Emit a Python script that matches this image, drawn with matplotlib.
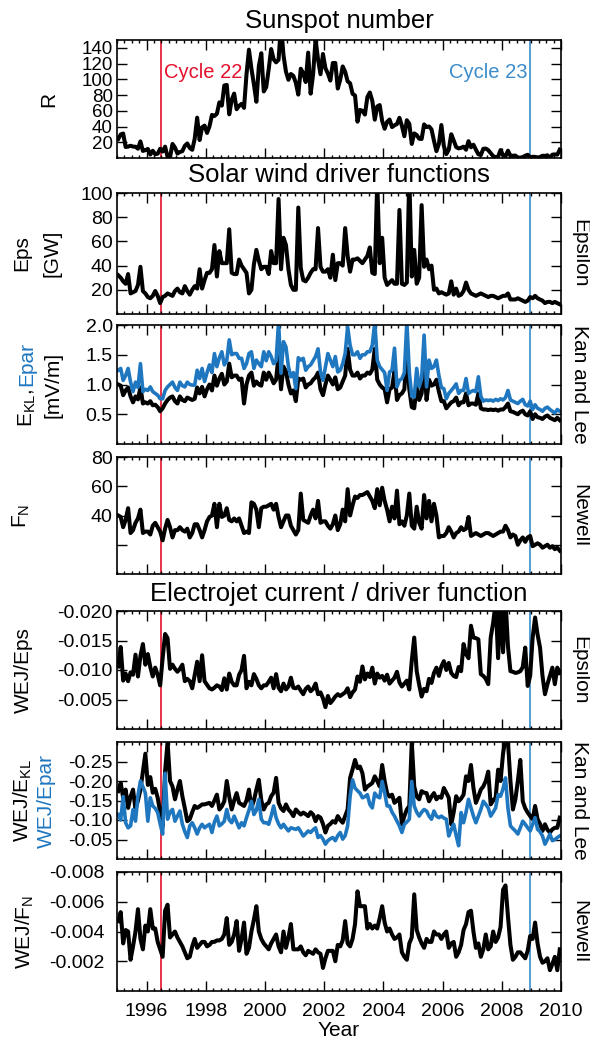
import numpy as np
import matplotlib
matplotlib.use("Agg")
import matplotlib.pyplot as plt
from matplotlib.ticker import MultipleLocator

plt.rcParams['font.family'] = ['Liberation Sans', 'DejaVu Sans']
plt.rcParams['axes.unicode_minus'] = False
plt.rcParams['mathtext.fontset'] = 'custom'
plt.rcParams['mathtext.rm'] = 'Liberation Sans'

# monthly means, Jan 1995 .. Dec 2009
months = 1995 + (np.arange(180) + 0.5) / 12

sunspot_r = [
    24.2, 29.9, 31.1, 14.0, 14.5, 15.6, 14.5, 14.3, 11.8, 21.1, 9.0, 10.0,
    11.5, 4.4, 9.2, 4.8, 5.5, 11.8, 8.2, 14.4, 1.6, 0.9, 17.9, 13.3,
    5.7, 7.6, 8.7, 15.5, 18.5, 12.7, 10.4, 24.4, 51.3, 22.8, 39.0, 41.2,
    31.9, 40.3, 54.8, 53.4, 56.3, 70.7, 66.6, 92.2, 92.9, 55.5, 74.0, 81.9,
    62.0, 66.3, 68.8, 63.7, 106.4, 137.7, 113.5, 93.7, 71.5, 116.7, 133.2, 84.6,
    90.1, 112.9, 138.5, 125.5, 121.6, 124.9, 170.1, 130.5, 109.7, 99.4, 106.8, 104.4,
    95.6, 80.6, 113.5, 107.7, 96.6, 134.0, 81.8, 106.4, 150.7, 125.5, 106.5, 132.2,
    114.1, 107.4, 98.4, 120.7, 120.8, 88.3, 99.6, 116.4, 109.6, 97.5, 95.0, 81.6,
    79.5, 46.2, 61.1, 60.0, 55.2, 77.4, 83.3, 72.7, 48.7, 65.5, 67.3, 47.0,
    37.2, 46.0, 48.9, 39.3, 41.5, 43.2, 51.1, 40.9, 27.7, 48.0, 43.5, 17.9,
    31.3, 29.2, 24.5, 24.2, 42.7, 39.3, 40.1, 36.4, 21.9, 8.7, 18.0, 41.9,
    15.3, 4.9, 10.6, 30.2, 22.3, 13.9, 12.2, 12.9, 14.4, 10.5, 21.4, 13.6,
    16.9, 10.6, 4.8, 3.7, 11.7, 12.0, 10.0, 6.2, 2.4, 0.9, 1.7, 10.1,
    3.4, 2.1, 9.3, 2.9, 2.9, 3.1, 0.5, 0.5, 1.1, 2.9, 4.1, 0.8,
    1.5, 1.4, 0.7, 1.2, 2.9, 2.6, 3.5, 0.0, 4.2, 4.6, 4.2, 10.6]

eps_gw = [
    32, 30, 27, 25, 33, 17, 18, 19, 24, 39, 19, 17,
    14, 13, 15, 19, 15, 9, 14, 15, 17, 16, 15, 19,
    21, 18, 17, 23, 19, 16, 20, 23, 21, 37, 21, 28,
    34, 34, 37, 57, 31, 52, 42, 42, 42, 70, 34, 33,
    33, 45, 40, 37, 34, 17, 20, 41, 53, 44, 37, 39,
    39, 33, 52, 42, 42, 95, 37, 63, 57, 37, 24, 20,
    20, 88, 38, 28, 27, 30, 34, 37, 37, 71, 39, 35,
    35, 37, 30, 49, 28, 42, 42, 40, 71, 48, 35, 45,
    45, 46, 44, 42, 45, 48, 55, 34, 33, 110, 42, 63,
    30, 24, 26, 28, 25, 25, 86, 25, 24, 26, 115, 31,
    53, 25, 30, 90, 39, 45, 37, 40, 20, 21, 17, 18,
    17, 16, 17, 27, 16, 21, 15, 16, 19, 26, 20, 17,
    16, 15, 16, 17, 16, 15, 14, 15, 15, 14, 13, 14,
    15, 15, 17, 12, 12, 12, 13, 12, 11, 10, 11, 14,
    13, 15, 13, 12, 11, 9, 10, 10, 9, 10, 9, 8]

e_kl = [
    1.0, 0.98, 0.82, 0.9, 0.95, 0.8, 0.7, 0.8, 0.75, 0.95, 0.68, 0.7,
    0.68, 0.72, 0.65, 0.66, 0.62, 0.55, 0.6, 0.68, 0.74, 0.78, 0.8, 0.72,
    0.68, 0.8, 0.74, 0.72, 0.78, 0.76, 0.74, 0.76, 0.95, 0.85, 0.96, 0.8,
    0.92, 1.0, 0.9, 1.15, 0.98, 1.1, 1.18, 1.0, 1.05, 1.35, 1.12, 1.15,
    1.15, 1.08, 1.1, 0.68, 1.0, 1.15, 1.2, 0.98, 1.05, 1.0, 0.98, 1.2,
    1.08, 1.2, 1.12, 1.02, 1.08, 1.5, 0.92, 1.3, 1.22, 1.0, 0.85, 0.9,
    0.72, 1.1, 1.08, 1.1, 0.95, 1.0, 1.02, 1.08, 1.12, 1.2, 0.92, 0.82,
    1.0, 1.15, 1.08, 1.0, 1.12, 0.92, 0.95, 1.05, 1.15, 1.6, 1.25, 1.15,
    1.15, 1.2, 1.1, 1.15, 1.15, 1.2, 1.18, 1.25, 1.6, 1.08, 1.0, 0.95,
    0.92, 0.7, 0.92, 0.95, 1.22, 0.74, 0.82, 0.85, 0.92, 1.55, 0.92, 0.62,
    0.6, 0.98, 0.74, 0.85, 1.4, 0.74, 1.08, 0.98, 1.0, 1.08, 0.88, 0.72,
    0.72, 0.6, 0.65, 0.7, 0.72, 0.78, 0.65, 0.7, 0.7, 0.85, 0.65, 0.68,
    0.68, 0.66, 0.85, 0.6, 0.58, 0.58, 0.57, 0.58, 0.57, 0.58, 0.56, 0.58,
    0.58, 0.62, 0.68, 0.55, 0.54, 0.52, 0.5, 0.54, 0.56, 0.5, 0.48, 0.55,
    0.42, 0.5, 0.45, 0.44, 0.42, 0.46, 0.48, 0.44, 0.42, 0.4, 0.44, 0.4]

e_par = [
    1.24, 1.27, 1.07, 1.15, 1.27, 1.04, 0.88, 1.04, 0.95, 1.35, 0.88, 0.92,
    0.9, 0.96, 0.88, 0.85, 0.82, 0.76, 0.76, 0.9, 0.96, 1.0, 1.04, 0.95,
    0.9, 1.04, 0.98, 0.96, 1.04, 1.0, 0.99, 0.99, 1.24, 1.1, 1.27, 1.05,
    1.2, 1.33, 1.2, 1.52, 1.3, 1.45, 1.55, 1.33, 1.4, 1.75, 1.5, 1.52,
    1.52, 1.44, 1.44, 1.27, 1.35, 1.52, 1.55, 1.27, 1.41, 1.35, 1.3, 1.55,
    1.4, 1.55, 1.47, 1.35, 1.4, 2.05, 1.19, 1.72, 1.63, 1.3, 1.13, 1.2,
    0.93, 1.45, 1.41, 1.44, 1.24, 1.3, 1.33, 1.4, 1.47, 1.6, 1.21, 1.07,
    1.3, 1.52, 1.41, 1.3, 1.47, 1.21, 1.24, 1.35, 1.52, 1.97, 1.66, 1.5,
    1.5, 1.55, 1.44, 1.5, 1.5, 1.55, 1.55, 1.66, 2.05, 1.41, 1.3, 1.25,
    1.2, 0.9, 1.21, 1.24, 1.61, 0.96, 1.07, 1.1, 1.2, 2.05, 1.21, 0.8,
    0.79, 1.27, 0.96, 1.1, 1.83, 0.96, 1.41, 1.27, 1.3, 1.41, 1.15, 0.95,
    0.93, 0.76, 0.85, 0.9, 0.95, 1.01, 0.85, 0.9, 0.9, 1.1, 0.85, 0.88,
    0.9, 0.88, 1.13, 0.8, 0.72, 0.74, 0.73, 0.74, 0.72, 0.75, 0.73, 0.76,
    0.74, 0.78, 0.9, 0.74, 0.72, 0.7, 0.68, 0.72, 0.75, 0.66, 0.64, 0.72,
    0.58, 0.66, 0.6, 0.58, 0.55, 0.6, 0.62, 0.58, 0.55, 0.52, 0.58, 0.55]

f_newell = [
    40, 39, 32, 37, 45, 28, 30, 35, 38, 44, 28, 29,
    29, 27, 33, 35, 32, 29, 23, 31, 37, 32, 25, 30,
    30, 32, 30, 29, 31, 25, 28, 34, 34, 30, 25, 30,
    36, 39, 40, 48, 32, 48, 39, 40, 45, 37, 36, 38,
    36, 38, 33, 28, 29, 28, 49, 48, 44, 32, 45, 46,
    46, 47, 48, 44, 48, 39, 32, 36, 40, 40, 33, 30,
    27, 30, 55, 37, 36, 35, 40, 44, 38, 50, 35, 36,
    36, 33, 31, 34, 40, 30, 34, 44, 36, 58, 40, 47,
    53, 52, 54, 54, 55, 56, 53, 50, 45, 58, 47, 59,
    50, 44, 36, 46, 38, 57, 34, 36, 33, 40, 55, 33,
    31, 46, 35, 31, 54, 38, 50, 36, 48, 40, 25, 26,
    26, 28, 32, 29, 25, 28, 29, 32, 30, 31, 39, 26,
    27, 28, 27, 26, 27, 28, 28, 27, 26, 27, 28, 29,
    29, 33, 30, 25, 27, 26, 20, 23, 25, 22, 25, 26,
    19, 20, 21, 20, 18, 19, 20, 18, 19, 17, 18, 16]

wej_eps = [
    -0.0106, -0.0139, -0.0082, -0.0094, -0.0081, -0.0096, -0.0092, -0.0126, -0.0089, -0.0124, -0.0144, -0.0109,
    -0.0127, -0.0105, -0.0089, -0.0104, -0.0092, -0.0074, -0.0120, -0.0161, -0.0154, -0.0102, -0.0109, -0.0102,
    -0.0097, -0.0102, -0.0109, -0.0081, -0.0085, -0.0081, -0.0069, -0.0092, -0.0114, -0.0081, -0.0125, -0.0081,
    -0.0075, -0.0069, -0.0067, -0.0070, -0.0074, -0.0072, -0.0066, -0.0086, -0.0067, -0.0094, -0.0080, -0.0074,
    -0.0074, -0.0092, -0.0100, -0.0124, -0.0069, -0.0080, -0.0074, -0.0093, -0.0085, -0.0074, -0.0069, -0.0074,
    -0.0074, -0.0080, -0.0087, -0.0069, -0.0093, -0.0070, -0.0064, -0.0077, -0.0067, -0.0072, -0.0087, -0.0070,
    -0.0069, -0.0072, -0.0065, -0.0059, -0.0068, -0.0072, -0.0064, -0.0068, -0.0077, -0.0059, -0.0062, -0.0052,
    -0.0037, -0.0056, -0.0044, -0.0049, -0.0055, -0.0059, -0.0056, -0.0059, -0.0062, -0.0069, -0.0054, -0.0062,
    -0.0067, -0.0089, -0.0080, -0.0106, -0.0084, -0.0094, -0.0088, -0.0104, -0.0077, -0.0094, -0.0087, -0.0090,
    -0.0082, -0.0092, -0.0077, -0.0082, -0.0087, -0.0097, -0.0079, -0.0072, -0.0077, -0.0082, -0.0067, -0.0116,
    -0.0155, -0.0098, -0.0075, -0.0055, -0.0068, -0.0064, -0.0085, -0.0078, -0.0095, -0.0104, -0.0090, -0.0106,
    -0.0115, -0.0100, -0.0112, -0.0095, -0.0090, -0.0088, -0.0105, -0.0098, -0.0144, -0.0127, -0.0120, -0.0175,
    -0.0155, -0.0154, -0.0152, -0.0093, -0.0090, -0.0085, -0.0076, -0.0155, -0.0180, -0.0215, -0.0120, -0.0220,
    -0.0130, -0.0220, -0.0140, -0.0098, -0.0097, -0.0095, -0.0096, -0.0098, -0.0105, -0.0138, -0.0073, -0.0090,
    -0.0155, -0.0189, -0.0160, -0.0138, -0.0090, -0.0059, -0.0076, -0.0090, -0.0104, -0.0076, -0.0104, -0.0095]

wej_ekl = [
    -0.174, -0.195, -0.157, -0.178, -0.131, -0.160, -0.178, -0.127, -0.150, -0.178, -0.225, -0.270,
    -0.190, -0.210, -0.170, -0.180, -0.157, -0.120, -0.085, -0.225, -0.300, -0.200, -0.186, -0.153,
    -0.178, -0.200, -0.161, -0.130, -0.097, -0.102, -0.120, -0.136, -0.131, -0.135, -0.140, -0.140,
    -0.142, -0.144, -0.136, -0.150, -0.165, -0.127, -0.135, -0.148, -0.200, -0.160, -0.127, -0.150,
    -0.169, -0.144, -0.140, -0.136, -0.150, -0.178, -0.131, -0.150, -0.178, -0.203, -0.150, -0.127,
    -0.140, -0.144, -0.161, -0.170, -0.208, -0.144, -0.130, -0.123, -0.140, -0.127, -0.120, -0.110,
    -0.127, -0.120, -0.114, -0.119, -0.115, -0.110, -0.120, -0.114, -0.097, -0.110, -0.106, -0.090,
    -0.068, -0.085, -0.090, -0.097, -0.093, -0.110, -0.100, -0.093, -0.110, -0.127, -0.208, -0.230,
    -0.254, -0.233, -0.237, -0.220, -0.178, -0.186, -0.190, -0.195, -0.212, -0.200, -0.186, -0.241,
    -0.200, -0.169, -0.160, -0.165, -0.144, -0.150, -0.157, -0.089, -0.110, -0.127, -0.136, -0.300,
    -0.186, -0.160, -0.153, -0.174, -0.170, -0.169, -0.148, -0.160, -0.169, -0.153, -0.160, -0.157,
    -0.182, -0.170, -0.157, -0.089, -0.120, -0.161, -0.148, -0.155, -0.165, -0.212, -0.200, -0.241,
    -0.182, -0.144, -0.160, -0.178, -0.186, -0.200, -0.224, -0.140, -0.150, -0.157, -0.229, -0.200,
    -0.270, -0.310, -0.300, -0.200, -0.127, -0.153, -0.200, -0.254, -0.148, -0.130, -0.119, -0.110,
    -0.102, -0.136, -0.102, -0.090, -0.072, -0.089, -0.075, -0.068, -0.076, -0.080, -0.080, -0.106]

wej_epar = [
    -0.114, -0.100, -0.160, -0.093, -0.080, -0.085, -0.127, -0.097, -0.163, -0.200, -0.185, -0.169,
    -0.097, -0.157, -0.136, -0.130, -0.119, -0.090, -0.064, -0.220, -0.102, -0.120, -0.127, -0.097,
    -0.110, -0.123, -0.089, -0.070, -0.055, -0.085, -0.093, -0.080, -0.064, -0.080, -0.089, -0.080,
    -0.085, -0.089, -0.068, -0.095, -0.110, -0.085, -0.090, -0.097, -0.127, -0.100, -0.093, -0.110,
    -0.095, -0.080, -0.093, -0.085, -0.106, -0.125, -0.148, -0.114, -0.125, -0.153, -0.102, -0.093,
    -0.093, -0.089, -0.110, -0.136, -0.106, -0.090, -0.080, -0.089, -0.080, -0.072, -0.080, -0.078,
    -0.076, -0.080, -0.070, -0.059, -0.065, -0.072, -0.068, -0.075, -0.080, -0.055, -0.060, -0.051,
    -0.038, -0.047, -0.052, -0.055, -0.047, -0.060, -0.068, -0.051, -0.060, -0.085, -0.161, -0.203,
    -0.182, -0.175, -0.169, -0.157, -0.160, -0.165, -0.140, -0.131, -0.169, -0.160, -0.157, -0.199,
    -0.170, -0.136, -0.136, -0.120, -0.110, -0.097, -0.085, -0.068, -0.089, -0.095, -0.102, -0.199,
    -0.136, -0.120, -0.110, -0.120, -0.127, -0.123, -0.110, -0.102, -0.123, -0.110, -0.106, -0.110,
    -0.105, -0.102, -0.059, -0.075, -0.089, -0.060, -0.034, -0.119, -0.093, -0.120, -0.153, -0.131,
    -0.110, -0.093, -0.110, -0.127, -0.148, -0.140, -0.131, -0.110, -0.120, -0.131, -0.165, -0.161,
    -0.180, -0.208, -0.130, -0.085, -0.078, -0.072, -0.064, -0.080, -0.097, -0.089, -0.080, -0.072,
    -0.089, -0.106, -0.076, -0.070, -0.059, -0.038, -0.050, -0.064, -0.047, -0.050, -0.055, -0.059]

wej_fn = [
    -0.0047, -0.0053, -0.0032, -0.0041, -0.0040, -0.0021, -0.0030, -0.0040, -0.0055, -0.0035, -0.0028, -0.0044,
    -0.0040, -0.0055, -0.0042, -0.0042, -0.0033, -0.0028, -0.0023, -0.0054, -0.0058, -0.0036, -0.0038, -0.0040,
    -0.0036, -0.0033, -0.0030, -0.0026, -0.0022, -0.0023, -0.0030, -0.0035, -0.0029, -0.0031, -0.0033, -0.0033,
    -0.0030, -0.0031, -0.0033, -0.0033, -0.0034, -0.0034, -0.0035, -0.0038, -0.0049, -0.0031, -0.0033, -0.0038,
    -0.0047, -0.0027, -0.0035, -0.0046, -0.0025, -0.0029, -0.0040, -0.0048, -0.0057, -0.0040, -0.0035, -0.0032,
    -0.0030, -0.0028, -0.0032, -0.0035, -0.0038, -0.0030, -0.0026, -0.0040, -0.0029, -0.0036, -0.0045, -0.0028,
    -0.0028, -0.0028, -0.0030, -0.0026, -0.0024, -0.0027, -0.0026, -0.0025, -0.0028, -0.0026, -0.0025, -0.00155,
    -0.0022, -0.0027, -0.0027, -0.0027, -0.0020, -0.0031, -0.0030, -0.0034, -0.0047, -0.0032, -0.0030, -0.0035,
    -0.0045, -0.0067, -0.0057, -0.0057, -0.0057, -0.0042, -0.0045, -0.0042, -0.0044, -0.0042, -0.0049, -0.0057,
    -0.0046, -0.0040, -0.0042, -0.0038, -0.0035, -0.0036, -0.0038, -0.0026, -0.0023, -0.0021, -0.0032, -0.0036,
    -0.0065, -0.0041, -0.0036, -0.0032, -0.0029, -0.0035, -0.0033, -0.0033, -0.0040, -0.0038, -0.0038, -0.0035,
    -0.0038, -0.0040, -0.0029, -0.0032, -0.0033, -0.0023, -0.0026, -0.0031, -0.0041, -0.0045, -0.0053, -0.0054,
    -0.0040, -0.0029, -0.0032, -0.0023, -0.0028, -0.0038, -0.0028, -0.0030, -0.0040, -0.0033, -0.0036, -0.0043,
    -0.0068, -0.0071, -0.0050, -0.0031, -0.0021, -0.0023, -0.0026, -0.0026, -0.0024, -0.0022, -0.0027, -0.0037,
    -0.0035, -0.0046, -0.0032, -0.0023, -0.0019, -0.0020, -0.0022, -0.0014, -0.0018, -0.0023, -0.0014, -0.0028]

cycle_min = [1996.47, 2008.96]
year_ticks = [1996, 1998, 2000, 2002, 2004, 2006, 2008, 2010]

RED = '#e4102c'
VBLUE = '#3a8ccc'
BLUE = '#1f77c0'

W, H = 590, 1040
fig = plt.figure(figsize=(W / 100, H / 100), dpi=100)

# panel top / bottom in pixels
rows = [(40, 158), (193, 314), (325, 444), (457, 574), (611, 729), (742, 859), (872, 991)]
L, R = 117, 561
axes = []
for top, bot in rows:
    ax = fig.add_axes([L / W, 1 - bot / H, (R - L) / W, (bot - top) / H])
    ax.set_xlim(1995, 2010)
    ax.set_xticks(year_ticks)
    ax.xaxis.set_minor_locator(MultipleLocator(0.25))
    ax.tick_params(which='both', direction='in', top=True, right=True,
                   labelsize=14, width=1.0, labelbottom=False, pad=3)
    ax.tick_params(which='major', length=7)
    ax.tick_params(which='minor', length=2)
    for s in ax.spines.values():
        s.set_linewidth(1.2)
    ax.axvline(cycle_min[0], color=RED, lw=1.2, zorder=1)
    ax.axvline(cycle_min[1], color=VBLUE, lw=1.2, zorder=1)
    axes.append(ax)

lw = 2.9
ax1, ax2, ax3, ax4, ax5, ax6, ax7 = axes

ax1.plot(months, sunspot_r, color='k', lw=lw)
ax1.set_ylim(0, 150)
ax1.set_yticks(range(20, 141, 20))
ax1.tick_params(axis='y', labelsize=13.5)
ax1.text(1996.6, 109, 'Cycle 22', color=RED, fontsize=14.5, va='center', ha='left')
ax1.text(2008.88, 109, 'Cycle 23', color=VBLUE, fontsize=14.5, va='center', ha='right')

ax2.plot(months, eps_gw, color='k', lw=lw)
ax2.set_ylim(0, 100)
ax2.set_yticks(range(20, 101, 20))

ax3.plot(months, e_kl, color='k', lw=lw)
ax3.plot(months, e_par, color=BLUE, lw=2.6)
ax3.set_ylim(0, 2.0)
ax3.set_yticks([0.5, 1.0, 1.5, 2.0])
ax3.set_yticklabels(['0.5', '1.0', '1.5', '2.0'])

ax4.plot(months, f_newell, color='k', lw=lw)
ax4.set_ylim(0, 80)
ax4.set_yticks([20, 40, 60, 80])
ax4.set_yticklabels(['', '40', '60', '80'])

ax5.plot(months, wej_eps, color='k', lw=lw)
ax5.set_ylim(0, -0.020)
ax5.set_yticks([-0.005, -0.010, -0.015, -0.020])
ax5.set_yticklabels(['-0.005', '-0.010', '-0.015', '-0.020'])

ax6.plot(months, wej_ekl, color='k', lw=lw)
ax6.plot(months, wej_epar, color=BLUE, lw=2.6)
ax6.set_ylim(0, -0.30)
ax6.set_yticks([-0.05, -0.10, -0.15, -0.20, -0.25])
ax6.set_yticklabels(['-0.05', '-0.10', '-0.15', '-0.20', '-0.25'])

ax7.plot(months, wej_fn, color='k', lw=lw)
ax7.set_ylim(0, -0.008)
ax7.set_yticks([-0.002, -0.004, -0.006, -0.008])
ax7.set_yticklabels(['-0.002', '-0.004', '-0.006', '-0.008'])
ax7.tick_params(labelbottom=True, pad=9)
ax7.set_xticklabels([str(y) for y in year_ticks])

fs = 15
def fy(p):
    return 1 - p / H

def mid(i):
    return fy((rows[i][0] + rows[i][1]) / 2)

# section titles
fig.text(339 / W, fy(21), 'Sunspot number', ha='center', va='center', fontsize=18.5)
fig.text(339 / W, fy(175), 'Solar wind driver functions', ha='center', va='center', fontsize=18.5)
fig.text(339 / W, fy(594), 'Electrojet current / driver function', ha='center', va='center', fontsize=18.5)
fig.text(339 / W, fy(1030), 'Year', ha='center', va='center', fontsize=fs)

# y labels
def ylab(x, i, s, color='k'):
    fig.text(x / W, mid(i), s, rotation=90, ha='center', va='center', fontsize=fs, color=color)

ylab(49, 0, 'R')
ylab(22, 1, 'Eps')
ylab(52, 1, '[GW]')
ylab(53, 2, '[mV/m]')
ylab(21, 3, 'F$_\\mathregular{N}$')
ylab(23, 4, 'WEJ/Eps')
ylab(23, 5, 'WEJ/E$_\\mathregular{KL}$')
ylab(46, 5, 'WEJ/Epar', color=BLUE)
ylab(25, 6, 'WEJ/F$_\\mathregular{N}$')

# two-colour label for panel 3
tb = fig.text(27 / W, mid(2), 'E$_\\mathregular{KL}$, ', rotation=90, rotation_mode='anchor',
              ha='right', va='center', fontsize=fs)
tu = fig.text(27 / W, mid(2), 'Epar', rotation=90, rotation_mode='anchor',
              ha='left', va='center', fontsize=fs, color=BLUE)
fig.canvas.draw()
r = fig.canvas.get_renderer()
hb = tb.get_window_extent(r).height
hu = tu.get_window_extent(r).height
shift = (hb - hu) / 2 / H
for t in (tb, tu):
    t.set_y(mid(2) + shift)

# right-hand labels
right = ['Epsilon', 'Kan and Lee', 'Newell', 'Epsilon', 'Kan and Lee', 'Newell']
for i, s in enumerate(right, start=1):
    fig.text(580 / W, mid(i), s, rotation=-90, ha='center', va='center', fontsize=fs)

fig.savefig('out.png', dpi=100)
